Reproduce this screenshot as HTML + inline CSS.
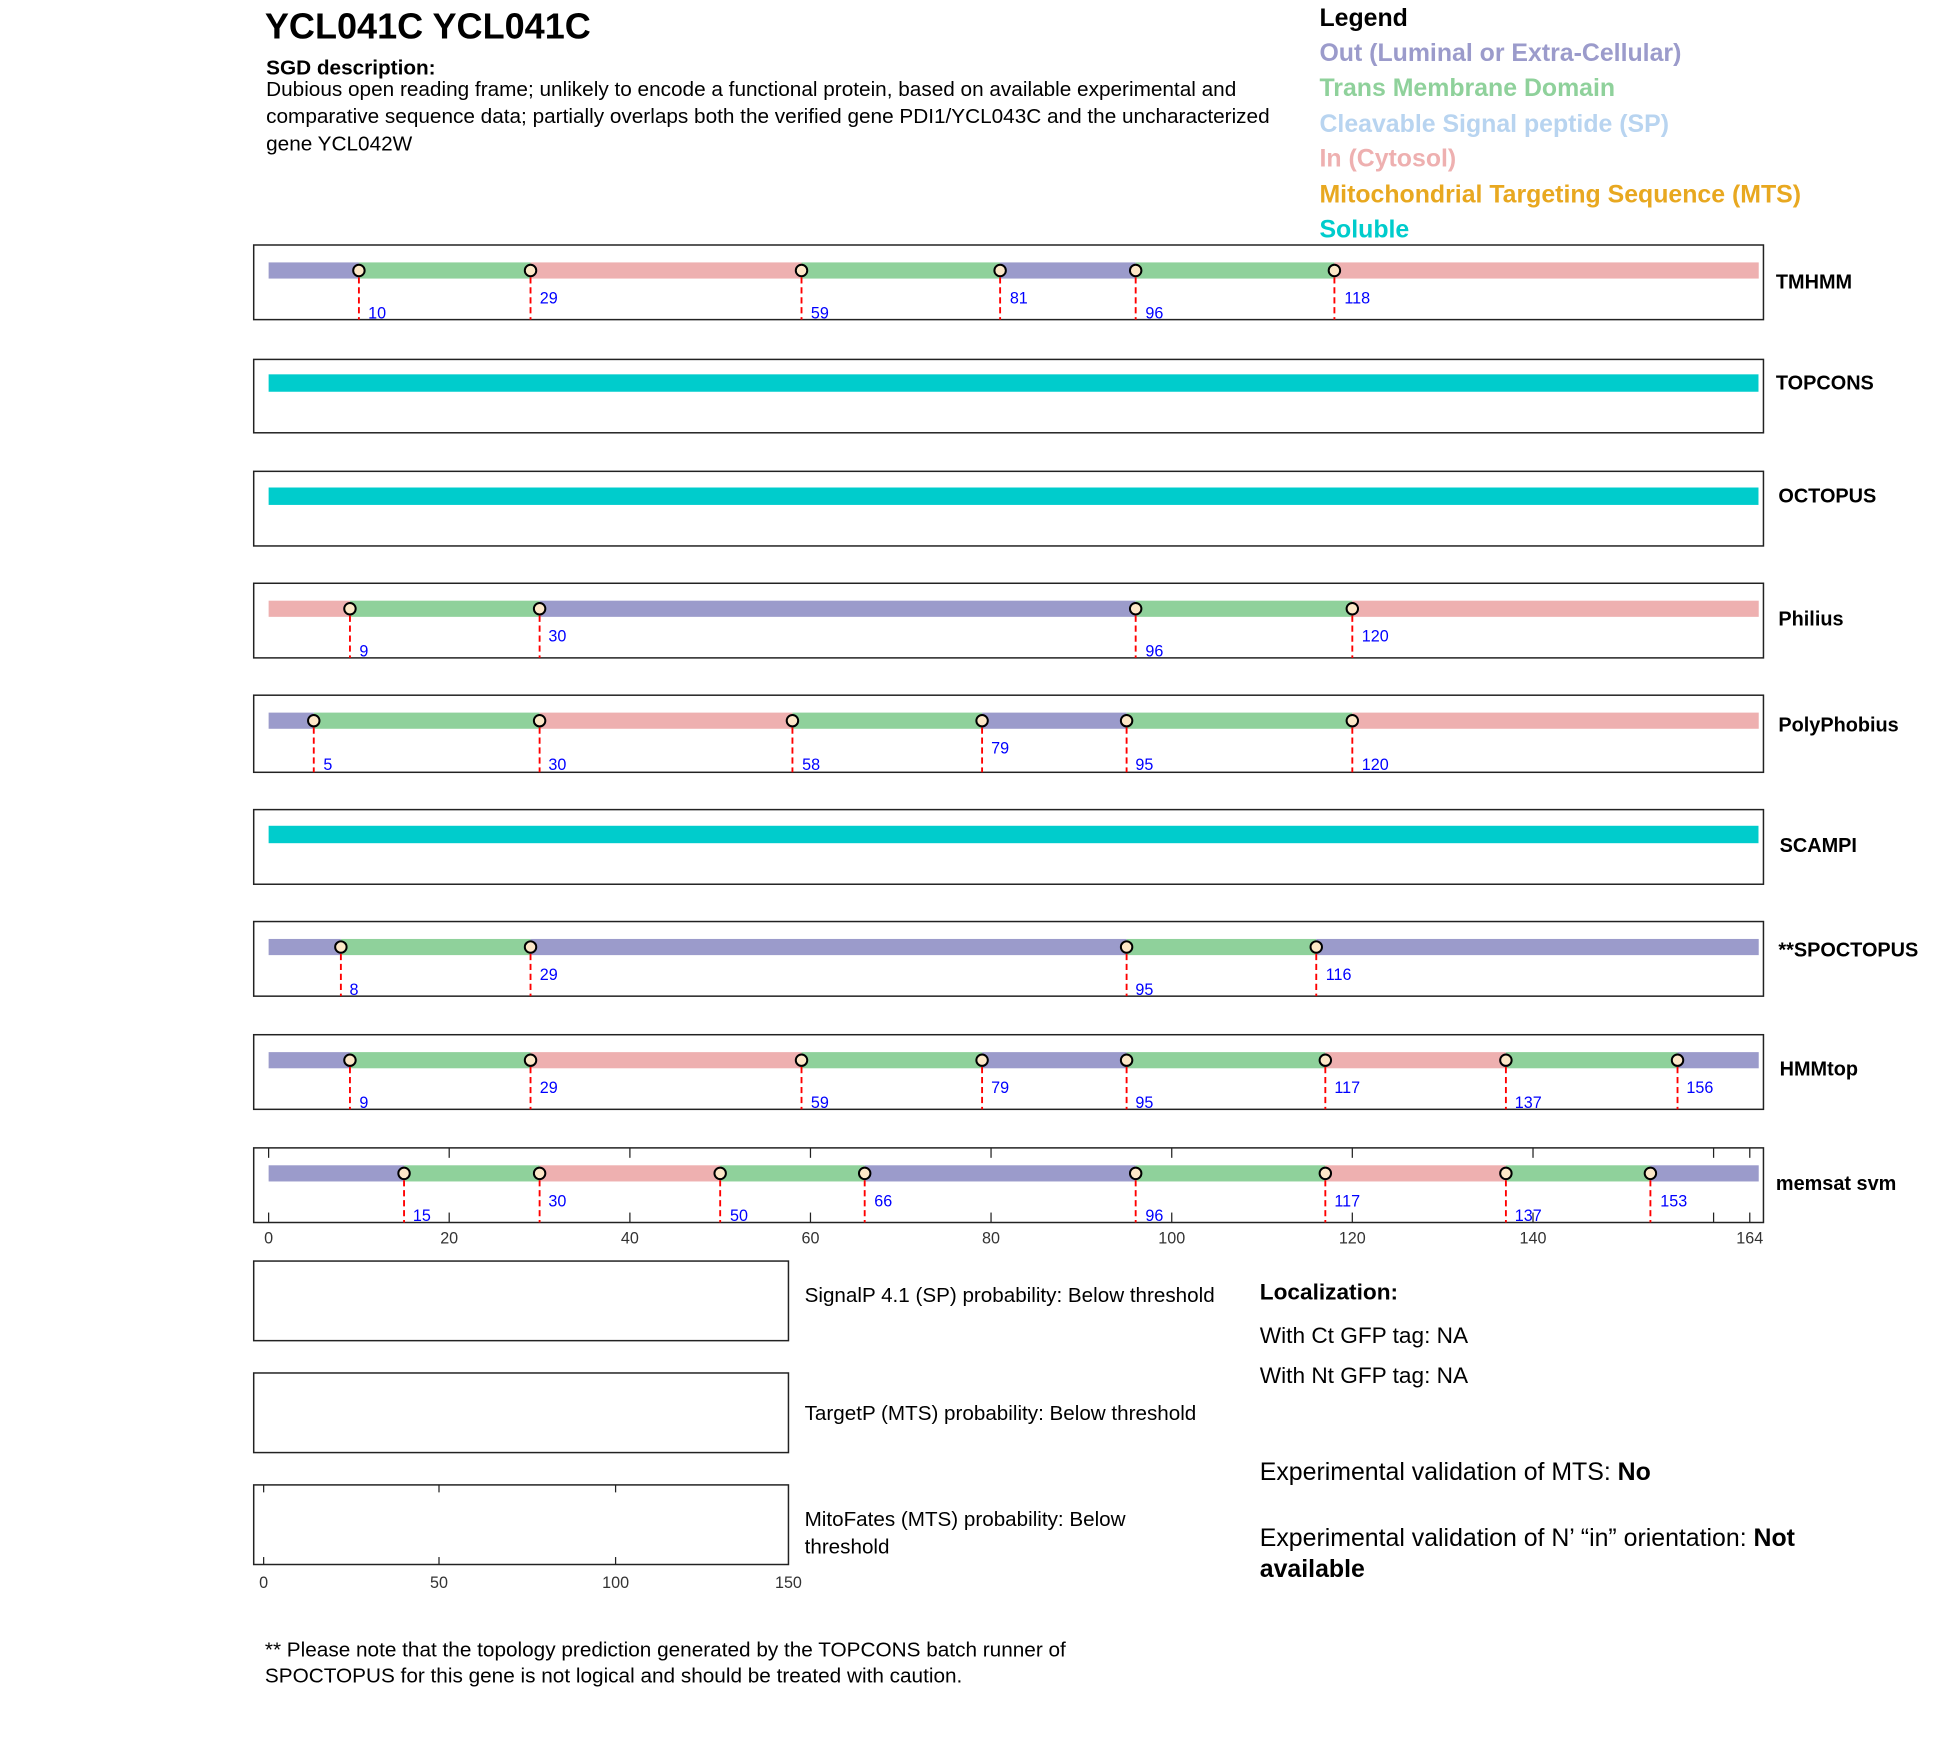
<!DOCTYPE html>
<html><head><meta charset="utf-8"><style>
html,body{margin:0;padding:0;background:#fff}
svg{display:block}
text{font-family:"Liberation Sans",Arial,sans-serif}
</style></head><body>
<svg width="1950" height="1761" viewBox="0 0 1568 1416" preserveAspectRatio="none" xmlns="http://www.w3.org/2000/svg">
<defs>
<style>
.o{fill:#9b9bcb}.t{fill:#8fd19b}.i{fill:#eeb0b0}.s{fill:#00cccc}
.fr{fill:none;stroke:#222;stroke-width:1.2}
.c{fill:#fde8c8;stroke:#000;stroke-width:1.6}
.d{stroke:#f00;stroke-width:1.5;stroke-dasharray:5,3}
.n{fill:#00f;font-size:13px}
.lb{font-size:16px;font-weight:bold}
.tk{stroke:#222;stroke-width:1}
.ax{font-size:13px;fill:#333}
</style>
</defs>
<text x="213" y="31" font-size="29" font-weight="bold">YCL041C  YCL041C</text>
<text x="214" y="60" font-size="16.7" font-weight="bold">SGD description:</text>
<text x="214" y="77" font-size="16.7">Dubious open reading frame; unlikely to encode a functional protein, based on available experimental and</text>
<text x="214" y="99" font-size="16.7">comparative sequence data; partially overlaps both the verified gene PDI1/YCL043C and the uncharacterized</text>
<text x="214" y="121" font-size="16.7">gene YCL042W</text>
<g font-size="20" font-weight="bold">
<text x="1061" y="21">Legend</text>
<text x="1061" y="49" fill="#9b9bcb">Out (Luminal or Extra-Cellular)</text>
<text x="1061" y="77" fill="#8fd19b">Trans Membrane Domain</text>
<text x="1061" y="106" fill="#b8d4f0">Cleavable Signal peptide (SP)</text>
<text x="1061" y="134" fill="#eeb0b0">In (Cytosol)</text>
<text x="1061" y="163" fill="#e8a820">Mitochondrial Targeting Sequence (MTS)</text>
<text x="1061" y="191" fill="#00cccc">Soluble</text>
</g>

<!-- TMHMM -->
<g transform="translate(0,197)">
<rect class="fr" x="204" y="0" width="1214" height="60"/>
<rect class="o" x="216" y="14" width="72.6" height="13"/>
<rect class="t" x="288.6" y="14" width="138" height="13"/>
<rect class="i" x="426.6" y="14" width="217.9" height="13"/>
<rect class="t" x="644.5" y="14" width="159.7" height="13"/>
<rect class="o" x="804.2" y="14" width="109" height="13"/>
<rect class="t" x="913.2" y="14" width="159.8" height="13"/>
<rect class="i" x="1073" y="14" width="341.2" height="13"/>
<line class="d" x1="288.6" y1="26" x2="288.6" y2="60"/><line class="d" x1="426.6" y1="26" x2="426.6" y2="60"/><line class="d" x1="644.5" y1="26" x2="644.5" y2="60"/><line class="d" x1="804.2" y1="26" x2="804.2" y2="60"/><line class="d" x1="913.2" y1="26" x2="913.2" y2="60"/><line class="d" x1="1073" y1="26" x2="1073" y2="60"/>
<circle class="c" cx="288.6" cy="20.5" r="4.6"/><circle class="c" cx="426.6" cy="20.5" r="4.6"/><circle class="c" cx="644.5" cy="20.5" r="4.6"/><circle class="c" cx="804.2" cy="20.5" r="4.6"/><circle class="c" cx="913.2" cy="20.5" r="4.6"/><circle class="c" cx="1073" cy="20.5" r="4.6"/>
<text class="n" x="296" y="59">10</text><text class="n" x="434" y="47">29</text><text class="n" x="652" y="59">59</text><text class="n" x="812" y="47">81</text><text class="n" x="921" y="59">96</text><text class="n" x="1081" y="47">118</text>
<text class="lb" x="1428" y="35">TMHMM</text>
</g>

<!-- TOPCONS -->
<g transform="translate(0,289)">
<rect class="fr" x="204" y="0" width="1214" height="59"/>
<rect class="s" x="216" y="12" width="1198" height="14"/>
<text class="lb" x="1428" y="24">TOPCONS</text>
</g>
<!-- OCTOPUS -->
<g transform="translate(0,379)">
<rect class="fr" x="204" y="0" width="1214" height="60"/>
<rect class="s" x="216" y="13" width="1198" height="14"/>
<text class="lb" x="1430" y="25">OCTOPUS</text>
</g>

<!-- Philius -->
<g transform="translate(0,469)">
<rect class="fr" x="204" y="0" width="1214" height="60"/>
<rect class="i" x="216" y="14" width="65.4" height="13"/>
<rect class="t" x="281.4" y="14" width="152.5" height="13"/>
<rect class="o" x="433.9" y="14" width="479.3" height="13"/>
<rect class="t" x="913.2" y="14" width="174.2" height="13"/>
<rect class="i" x="1087.4" y="14" width="326.8" height="13"/>
<line class="d" x1="281.4" y1="26" x2="281.4" y2="60"/><line class="d" x1="433.9" y1="26" x2="433.9" y2="60"/><line class="d" x1="913.2" y1="26" x2="913.2" y2="60"/><line class="d" x1="1087.4" y1="26" x2="1087.4" y2="60"/>
<circle class="c" cx="281.4" cy="20.5" r="4.6"/><circle class="c" cx="433.9" cy="20.5" r="4.6"/><circle class="c" cx="913.2" cy="20.5" r="4.6"/><circle class="c" cx="1087.4" cy="20.5" r="4.6"/>
<text class="n" x="289" y="59">9</text><text class="n" x="441" y="47">30</text><text class="n" x="921" y="59">96</text><text class="n" x="1095" y="47">120</text>
<text class="lb" x="1430" y="34">Philius</text>
</g>

<!-- PolyPhobius -->
<g transform="translate(0,559)">
<rect class="fr" x="204" y="0" width="1214" height="62"/>
<rect class="o" x="216" y="14" width="36.3" height="13"/>
<rect class="t" x="252.3" y="14" width="181.6" height="13"/>
<rect class="i" x="433.9" y="14" width="203.3" height="13"/>
<rect class="t" x="637.2" y="14" width="152.5" height="13"/>
<rect class="o" x="789.7" y="14" width="116.2" height="13"/>
<rect class="t" x="905.9" y="14" width="181.5" height="13"/>
<rect class="i" x="1087.4" y="14" width="326.8" height="13"/>
<line class="d" x1="252.3" y1="26" x2="252.3" y2="62"/><line class="d" x1="433.9" y1="26" x2="433.9" y2="62"/><line class="d" x1="637.2" y1="26" x2="637.2" y2="62"/><line class="d" x1="789.7" y1="26" x2="789.7" y2="62"/><line class="d" x1="905.9" y1="26" x2="905.9" y2="62"/><line class="d" x1="1087.4" y1="26" x2="1087.4" y2="62"/>
<circle class="c" cx="252.3" cy="20.5" r="4.6"/><circle class="c" cx="433.9" cy="20.5" r="4.6"/><circle class="c" cx="637.2" cy="20.5" r="4.6"/><circle class="c" cx="789.7" cy="20.5" r="4.6"/><circle class="c" cx="905.9" cy="20.5" r="4.6"/><circle class="c" cx="1087.4" cy="20.5" r="4.6"/>
<text class="n" x="260" y="60">5</text><text class="n" x="441" y="60">30</text><text class="n" x="645" y="60">58</text><text class="n" x="797" y="47">79</text><text class="n" x="913" y="60">95</text><text class="n" x="1095" y="60">120</text>
<text class="lb" x="1430" y="29">PolyPhobius</text>
</g>

<!-- SCAMPI -->
<g transform="translate(0,651)">
<rect class="fr" x="204" y="0" width="1214" height="60"/>
<rect class="s" x="216" y="13" width="1198" height="14"/>
<text class="lb" x="1431" y="34">SCAMPI</text>
</g>

<!-- SPOCTOPUS -->
<g transform="translate(0,741)">
<rect class="fr" x="204" y="0" width="1214" height="60"/>
<rect class="o" x="216" y="14" width="58.1" height="13"/>
<rect class="t" x="274.1" y="14" width="152.5" height="13"/>
<rect class="o" x="426.6" y="14" width="479.3" height="13"/>
<rect class="t" x="905.9" y="14" width="152.5" height="13"/>
<rect class="o" x="1058.4" y="14" width="355.8" height="13"/>
<line class="d" x1="274.1" y1="26" x2="274.1" y2="60"/><line class="d" x1="426.6" y1="26" x2="426.6" y2="60"/><line class="d" x1="905.9" y1="26" x2="905.9" y2="60"/><line class="d" x1="1058.4" y1="26" x2="1058.4" y2="60"/>
<circle class="c" cx="274.1" cy="20.5" r="4.6"/><circle class="c" cx="426.6" cy="20.5" r="4.6"/><circle class="c" cx="905.9" cy="20.5" r="4.6"/><circle class="c" cx="1058.4" cy="20.5" r="4.6"/>
<text class="n" x="281" y="59">8</text><text class="n" x="434" y="47">29</text><text class="n" x="913" y="59">95</text><text class="n" x="1066" y="47">116</text>
<text class="lb" x="1430" y="28">**SPOCTOPUS</text>
</g>

<!-- HMMtop -->
<g transform="translate(0,832)">
<rect class="fr" x="204" y="0" width="1214" height="60"/>
<rect class="o" x="216" y="14" width="65.4" height="13"/>
<rect class="t" x="281.4" y="14" width="145.2" height="13"/>
<rect class="i" x="426.6" y="14" width="217.9" height="13"/>
<rect class="t" x="644.5" y="14" width="145.2" height="13"/>
<rect class="o" x="789.7" y="14" width="116.2" height="13"/>
<rect class="t" x="905.9" y="14" width="159.8" height="13"/>
<rect class="i" x="1065.7" y="14" width="145.2" height="13"/>
<rect class="t" x="1210.9" y="14" width="138" height="13"/>
<rect class="o" x="1348.9" y="14" width="65.3" height="13"/>
<line class="d" x1="281.4" y1="26" x2="281.4" y2="60"/><line class="d" x1="426.6" y1="26" x2="426.6" y2="60"/><line class="d" x1="644.5" y1="26" x2="644.5" y2="60"/><line class="d" x1="789.7" y1="26" x2="789.7" y2="60"/><line class="d" x1="905.9" y1="26" x2="905.9" y2="60"/><line class="d" x1="1065.7" y1="26" x2="1065.7" y2="60"/><line class="d" x1="1210.9" y1="26" x2="1210.9" y2="60"/><line class="d" x1="1348.9" y1="26" x2="1348.9" y2="60"/>
<circle class="c" cx="281.4" cy="20.5" r="4.6"/><circle class="c" cx="426.6" cy="20.5" r="4.6"/><circle class="c" cx="644.5" cy="20.5" r="4.6"/><circle class="c" cx="789.7" cy="20.5" r="4.6"/><circle class="c" cx="905.9" cy="20.5" r="4.6"/><circle class="c" cx="1065.7" cy="20.5" r="4.6"/><circle class="c" cx="1210.9" cy="20.5" r="4.6"/><circle class="c" cx="1348.9" cy="20.5" r="4.6"/>
<text class="n" x="289" y="59">9</text><text class="n" x="434" y="47">29</text><text class="n" x="652" y="59">59</text><text class="n" x="797" y="47">79</text><text class="n" x="913" y="59">95</text><text class="n" x="1073" y="47">117</text><text class="n" x="1218" y="59">137</text><text class="n" x="1356" y="47">156</text>
<text class="lb" x="1431" y="33">HMMtop</text>
</g>

<!-- memsat svm -->
<g transform="translate(0,923)">
<rect class="fr" x="204" y="0" width="1214" height="60"/>
<g class="tk">
<line x1="216" y1="0" x2="216" y2="8"/><line x1="361.2" y1="0" x2="361.2" y2="8"/><line x1="506.5" y1="0" x2="506.5" y2="8"/><line x1="651.7" y1="0" x2="651.7" y2="8"/><line x1="796.9" y1="0" x2="796.9" y2="8"/><line x1="942.2" y1="0" x2="942.2" y2="8"/><line x1="1087.4" y1="0" x2="1087.4" y2="8"/><line x1="1232.7" y1="0" x2="1232.7" y2="8"/><line x1="1377.9" y1="0" x2="1377.9" y2="8"/><line x1="1407" y1="0" x2="1407" y2="8"/>
<line x1="216" y1="52" x2="216" y2="60"/><line x1="361.2" y1="52" x2="361.2" y2="60"/><line x1="506.5" y1="52" x2="506.5" y2="60"/><line x1="651.7" y1="52" x2="651.7" y2="60"/><line x1="796.9" y1="52" x2="796.9" y2="60"/><line x1="942.2" y1="52" x2="942.2" y2="60"/><line x1="1087.4" y1="52" x2="1087.4" y2="60"/><line x1="1232.7" y1="52" x2="1232.7" y2="60"/><line x1="1377.9" y1="52" x2="1377.9" y2="60"/><line x1="1407" y1="52" x2="1407" y2="60"/>
</g>
<rect class="o" x="216" y="14" width="108.9" height="13"/>
<rect class="t" x="324.9" y="14" width="109" height="13"/>
<rect class="i" x="433.9" y="14" width="145.2" height="13"/>
<rect class="t" x="579.1" y="14" width="116.2" height="13"/>
<rect class="o" x="695.3" y="14" width="217.9" height="13"/>
<rect class="t" x="913.2" y="14" width="152.5" height="13"/>
<rect class="i" x="1065.7" y="14" width="145.2" height="13"/>
<rect class="t" x="1210.9" y="14" width="116.2" height="13"/>
<rect class="o" x="1327.1" y="14" width="87.1" height="13"/>
<line class="d" x1="324.9" y1="26" x2="324.9" y2="60"/><line class="d" x1="433.9" y1="26" x2="433.9" y2="60"/><line class="d" x1="579.1" y1="26" x2="579.1" y2="60"/><line class="d" x1="695.3" y1="26" x2="695.3" y2="60"/><line class="d" x1="913.2" y1="26" x2="913.2" y2="60"/><line class="d" x1="1065.7" y1="26" x2="1065.7" y2="60"/><line class="d" x1="1210.9" y1="26" x2="1210.9" y2="60"/><line class="d" x1="1327.1" y1="26" x2="1327.1" y2="60"/>
<circle class="c" cx="324.9" cy="20.5" r="4.6"/><circle class="c" cx="433.9" cy="20.5" r="4.6"/><circle class="c" cx="579.1" cy="20.5" r="4.6"/><circle class="c" cx="695.3" cy="20.5" r="4.6"/><circle class="c" cx="913.2" cy="20.5" r="4.6"/><circle class="c" cx="1065.7" cy="20.5" r="4.6"/><circle class="c" cx="1210.9" cy="20.5" r="4.6"/><circle class="c" cx="1327.1" cy="20.5" r="4.6"/>
<text class="n" x="332" y="59">15</text><text class="n" x="441" y="47">30</text><text class="n" x="587" y="59">50</text><text class="n" x="703" y="47">66</text><text class="n" x="921" y="59">96</text><text class="n" x="1073" y="47">117</text><text class="n" x="1218" y="59">137</text><text class="n" x="1335" y="47">153</text>
<text class="lb" x="1428" y="34">memsat svm</text>
</g>
<g class="ax" text-anchor="middle">
<text x="216" y="1000">0</text><text x="361.2" y="1000">20</text><text x="506.5" y="1000">40</text><text x="651.7" y="1000">60</text><text x="796.9" y="1000">80</text><text x="942.2" y="1000">100</text><text x="1087.4" y="1000">120</text><text x="1232.7" y="1000">140</text><text x="1407" y="1000">164</text>
</g>

<!-- bottom panels -->
<rect class="fr" x="204" y="1014" width="430" height="64"/>
<rect class="fr" x="204" y="1104" width="430" height="64"/>
<rect class="fr" x="204" y="1194" width="430" height="64"/>
<g class="tk">
<line x1="212" y1="1194" x2="212" y2="1200"/><line x1="353" y1="1194" x2="353" y2="1200"/><line x1="495" y1="1194" x2="495" y2="1200"/>
<line x1="212" y1="1252" x2="212" y2="1258"/><line x1="353" y1="1252" x2="353" y2="1258"/><line x1="495" y1="1252" x2="495" y2="1258"/>
</g>
<g class="ax" text-anchor="middle">
<text x="212" y="1277">0</text><text x="353" y="1277">50</text><text x="495" y="1277">100</text><text x="634" y="1277">150</text>
</g>
<g font-size="16.6">
<text x="647" y="1047">SignalP 4.1 (SP) probability: Below threshold</text>
<text x="647" y="1142">TargetP (MTS) probability: Below threshold</text>
<text x="647" y="1227">MitoFates (MTS) probability: Below</text>
<text x="647" y="1249">threshold</text>
</g>
<g font-size="18.2">
<text x="1013" y="1045" font-weight="bold">Localization:</text>
<text x="1013" y="1080">With Ct GFP tag: NA</text>
<text x="1013" y="1112">With Nt GFP tag: NA</text>
</g>
<g font-size="20">
<text x="1013" y="1190">Experimental validation of MTS: <tspan font-weight="bold">No</tspan></text>
<text x="1013" y="1243">Experimental validation of N’ “in” orientation: <tspan font-weight="bold">Not</tspan></text>
<text x="1013" y="1268" font-weight="bold">available</text>
</g>
<g font-size="16.7">
<text x="213" y="1332">** Please note that the topology prediction generated by the TOPCONS batch runner of</text>
<text x="213" y="1353">SPOCTOPUS for this gene is not logical and should be treated with caution.</text>
</g>
</svg>
</body></html>
